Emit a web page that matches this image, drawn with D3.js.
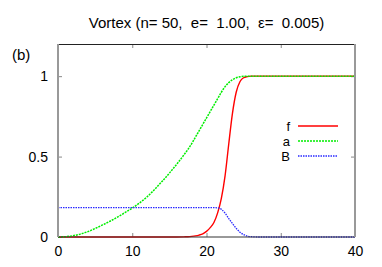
<!DOCTYPE html>
<html>
<head>
<meta charset="utf-8">
<script src="https://cdn.jsdelivr.net/npm/d3@7"></script>
<style>
  body { margin: 0; background: #fff; }
  svg { display: block; font-family: "Liberation Sans", Arial, sans-serif; }
  .tick text { font-size: 14px; fill: #000; }
  .tick line { stroke: #888; }
  .domain { display: none; }
</style>
</head>
<body>
<svg id="chart" width="382" height="267"></svg>
<script>
"use strict"

const titleText = "Vortex (n= 50,  e=  1.00,  \u03b5=  0.005)"
const panelLabel = "(b)"

const rValues = [0, 1, 2, 3, 4, 5, 6, 7, 8, 9, 10, 11, 12, 13, 14, 15, 16, 17,
    17.5, 18, 18.5, 19, 19.5, 20, 20.5, 21, 21.5, 22, 22.5, 23, 23.5, 24, 24.5, 25, 25.5, 26,
    27, 28, 29, 30, 31, 32, 33, 34, 35, 36, 37, 38, 39, 40]

const fValues = [0, 0, 0, 0, 0, 0, 0, 0, 0, 0, 0, 0, 0, 0, 0, 0, 0, 0.001,
    0.002, 0.004, 0.007, 0.012, 0.02, 0.035, 0.058, 0.09, 0.15, 0.24, 0.38, 0.58, 0.77, 0.9, 0.965, 0.99, 0.997, 1,
    1, 1, 1, 1, 1, 1, 1, 1, 1, 1, 1, 1, 1, 1]

const aValues = [0, 0.002, 0.008, 0.018, 0.033, 0.053, 0.075, 0.098, 0.124, 0.151, 0.18, 0.212, 0.25, 0.295, 0.345, 0.397, 0.453, 0.513,
    0.545, 0.58, 0.62, 0.66, 0.7, 0.74, 0.78, 0.82, 0.86, 0.9, 0.935, 0.96, 0.978, 0.99, 0.996, 0.999, 1, 1,
    1, 1, 1, 1, 1, 1, 1, 1, 1, 1, 1, 1, 1, 1]

const bValues = [0.183, 0.183, 0.183, 0.183, 0.183, 0.183, 0.183, 0.183, 0.183, 0.183, 0.183, 0.183, 0.183, 0.183, 0.183, 0.183, 0.183, 0.183,
    0.183, 0.183, 0.183, 0.183, 0.183, 0.183, 0.183, 0.183, 0.181, 0.172, 0.148, 0.115, 0.083, 0.054, 0.03, 0.015, 0.006, 0.002,
    0, 0, 0, 0, 0, 0, 0, 0, 0, 0, 0, 0, 0, 0]

const xTicks = [0, 10, 20, 30, 40]
const yTicks = [0, 0.5, 1]

const series = [
    { name: "f", values: fValues, color: "#ff0000", dash: null, width: 1.4 },
    { name: "a", values: aValues, color: "#00ee00", dash: "2,1", width: 1.5 },
    { name: "B", values: bValues, color: "#2a2aff", dash: "1.5,1", width: 1.3 }
]

const margin = { top: 44, right: 27, bottom: 30, left: 58 }
const width = 382 - margin.left - margin.right
const height = 267 - margin.top - margin.bottom

const svg = d3.select("#chart")

const x = d3.scaleLinear().domain([0, 40]).range([margin.left, margin.left + width])
const y = d3.scaleLinear().domain([0, 1.2]).range([margin.top + height, margin.top])

// title and panel label
svg.append("text")
    .attr("x", (x(0) + x(40)) / 2)
    .attr("y", 28)
    .attr("text-anchor", "middle")
    .style("font-size", "15px")
    .style("white-space", "pre")
    .text(titleText)

svg.append("text")
    .attr("x", 12)
    .attr("y", 60)
    .style("font-size", "15px")
    .text(panelLabel)

// axes, ticks pointing inward like gnuplot
svg.append("g")
    .attr("transform", "translate(0," + y(0) + ")")
    .call(d3.axisBottom(x).tickValues(xTicks).tickSize(-4).tickPadding(9).tickFormat(d3.format("d")))

svg.append("g")
    .attr("transform", "translate(0," + y(1.2) + ")")
    .call(d3.axisTop(x).tickValues(xTicks.slice(1, -1)).tickSize(-4).tickFormat(""))

svg.append("g")
    .attr("transform", "translate(" + x(0) + ",0)")
    .call(d3.axisLeft(y).tickValues(yTicks).tickSize(-4).tickPadding(10).tickFormat(d => d === 0.5 ? "0.5" : d3.format("d")(d)))

svg.append("g")
    .attr("transform", "translate(" + x(40) + ",0)")
    .call(d3.axisRight(y).tickValues(yTicks.slice(1)).tickSize(-4).tickFormat(""))

svg.selectAll(".tick text").style("font-size", "14px")

// curves
const line = d3.line()
    .x((d, i) => x(rValues[i]))
    .y(d => y(d))
    .curve(d3.curveMonotoneX)

series.forEach(s => {
    svg.append("path")
        .datum(s.values)
        .attr("fill", "none")
        .attr("stroke", s.color)
        .attr("stroke-width", s.width)
        .attr("stroke-dasharray", s.dash)
        .attr("d", line)
})

// frame
svg.append("line").attr("x1", x(0)).attr("x2", x(40)).attr("y1", y(1.2) + 0.5).attr("y2", y(1.2) + 0.5)
    .attr("stroke", "#222").attr("stroke-width", 1)
svg.append("line").attr("x1", x(0)).attr("x2", x(40)).attr("y1", y(0)).attr("y2", y(0))
    .attr("stroke", "#333").attr("stroke-width", 1)
svg.append("line").attr("x1", x(0)).attr("x2", x(0)).attr("y1", y(1.2)).attr("y2", y(0))
    .attr("stroke", "#999").attr("stroke-width", 2)
svg.append("line").attr("x1", x(40)).attr("x2", x(40)).attr("y1", y(1.2)).attr("y2", y(0))
    .attr("stroke", "#999").attr("stroke-width", 2)

// legend
const legend = svg.append("g")
series.forEach((s, i) => {
    const ly = 126 + i * 15
    legend.append("text")
        .attr("x", 290)
        .attr("y", ly + 5)
        .attr("text-anchor", "end")
        .style("font-size", "13px")
        .text(s.name)
    legend.append("line")
        .attr("x1", 298).attr("x2", 338)
        .attr("y1", ly).attr("y2", ly)
        .attr("stroke", s.color)
        .attr("stroke-width", s.width)
        .attr("stroke-dasharray", s.dash)
})
</script>
</body>
</html>
